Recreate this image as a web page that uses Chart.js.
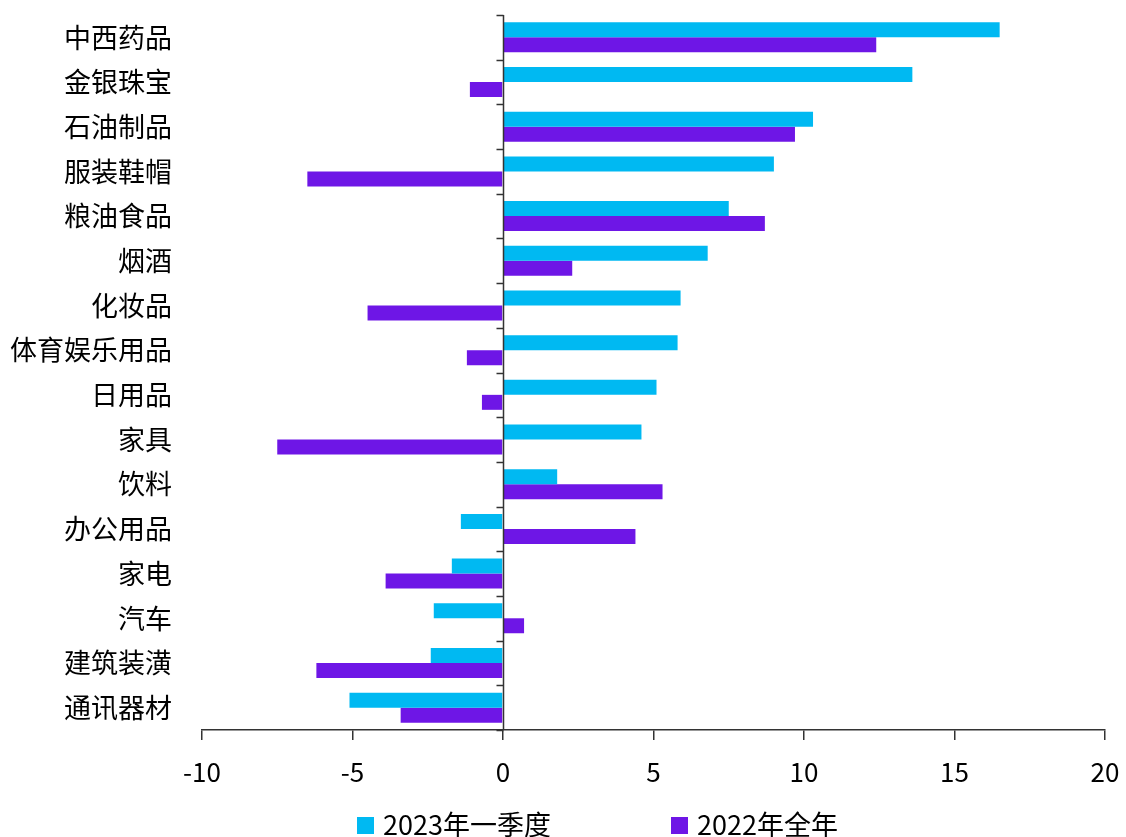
<!DOCTYPE html>
<html>
<head>
<meta charset="utf-8">
<script src="https://cdn.jsdelivr.net/npm/chart.js@4/dist/chart.umd.min.js"></script>
<style>
  html, body { margin: 0; padding: 0; background: #fff; }
  #wrap { position: relative; width: 1126px; height: 837px; }
  #legend {
    position: absolute; left: 357px; top: 804px;
    display: flex; gap: 120px;
    font-family: 'Noto Sans CJK SC', 'Noto Sans', sans-serif; font-size: 27px; color: #000;
  }
  #legend .item { display: flex; align-items: center; white-space: nowrap; }
  #legend .box { width: 17px; height: 17px; margin-right: 9px; margin-top: 4px; }
</style>
</head>
<body>
<div id="wrap">
  <canvas id="myChart" width="1126" height="837"></canvas>
  <div id="legend"></div>
</div>
<script>
// --- Data ---
const categories = ['中西药品', '金银珠宝', '石油制品', '服装鞋帽', '粮油食品', '烟酒', '化妆品', '体育娱乐用品',
                    '日用品', '家具', '饮料', '办公用品', '家电', '汽车', '建筑装潢', '通讯器材'];
const q1_2023   = [16.5, 13.6, 10.3, 9.0, 7.5, 6.8, 5.9, 5.8, 5.1, 4.6, 1.8, -1.4, -1.7, -2.3, -2.4, -5.1];
const full_2022 = [12.4, -1.1, 9.7, -6.5, 8.7, 2.3, -4.5, -1.2, -0.7, -7.5, 5.3, 4.4, -3.9, 0.7, -6.2, -3.4];
const xTicks    = [-10, -5, 0, 5, 10, 15, 20];

const FONT = "'Noto Sans CJK SC', 'Noto Sans', sans-serif";
const AXIS_COLOR = '#333';

// --- Zero line with category ticks on the left ---
const zeroAxis = {
  id: 'zeroAxis',
  afterDatasetsDraw(chart) {
    const { ctx, chartArea, scales: { x, y } } = chart;
    const x0 = Math.round(x.getPixelForValue(0)) + 0.5;
    ctx.save();
    ctx.strokeStyle = AXIS_COLOR;
    ctx.lineWidth = 1.5;
    ctx.beginPath();
    ctx.moveTo(x0, chartArea.top);
    ctx.lineTo(x0, chartArea.bottom);
    for (let i = 0; i <= categories.length; i++) {
      const py = Math.round(y.getPixelForValue(i - 0.5)) + 0.5;
      ctx.moveTo(x0 - 7, py);
      ctx.lineTo(x0, py);
    }
    ctx.stroke();
    ctx.restore();
  }
};

// --- Chart.js setup ---
const ctx = document.getElementById('myChart').getContext('2d');
const chart = new Chart(ctx, {
  type: 'bar',
  data: {
    labels: categories,
    datasets: [
      { label: '2023年一季度', data: q1_2023,   backgroundColor: '#00B9F2', borderWidth: 0 },
      { label: '2022年全年',   data: full_2022, backgroundColor: '#6E16E6', borderWidth: 0 }
    ]
  },
  options: {
    indexAxis: 'y',
    responsive: false,
    animation: false,
    devicePixelRatio: 1,
    layout: { padding: { left: 0, right: 21, top: 15, bottom: 0 } },
    datasets: {
      bar: { categoryPercentage: 0.67, barPercentage: 1.0 }
    },
    scales: {
      x: {
        min: -10,
        max: 20,
        afterBuildTicks: axis => { axis.ticks = xTicks.map(v => ({ value: v })); },
        afterFit: axis => {
          axis.height = 107;
          axis.paddingLeft = 0;
          axis.paddingRight = 0;
        },
        ticks: { color: '#000', font: { family: FONT, size: 26 }, padding: 17 },
        grid: { drawOnChartArea: false, tickLength: 10, color: AXIS_COLOR, lineWidth: 1.5 },
        border: { color: AXIS_COLOR, width: 1.5 }
      },
      y: {
        afterFit: axis => {
          axis.width = 202;
          axis.paddingTop = 0;
          axis.paddingBottom = 0;
        },
        ticks: { color: '#000', font: { family: FONT, size: 27 }, padding: 22 },
        grid: { display: false },
        border: { display: false }
      }
    },
    plugins: {
      legend: { display: false },
      tooltip: { enabled: false }
    }
  },
  plugins: [zeroAxis]
});

// --- Legend ---
const legendEl = document.getElementById('legend');
chart.data.datasets.forEach(ds => {
  const item = document.createElement('div');
  item.className = 'item';
  const box = document.createElement('span');
  box.className = 'box';
  box.style.background = ds.backgroundColor;
  item.appendChild(box);
  item.appendChild(document.createTextNode(ds.label));
  legendEl.appendChild(item);
});
</script>
</body>
</html>
